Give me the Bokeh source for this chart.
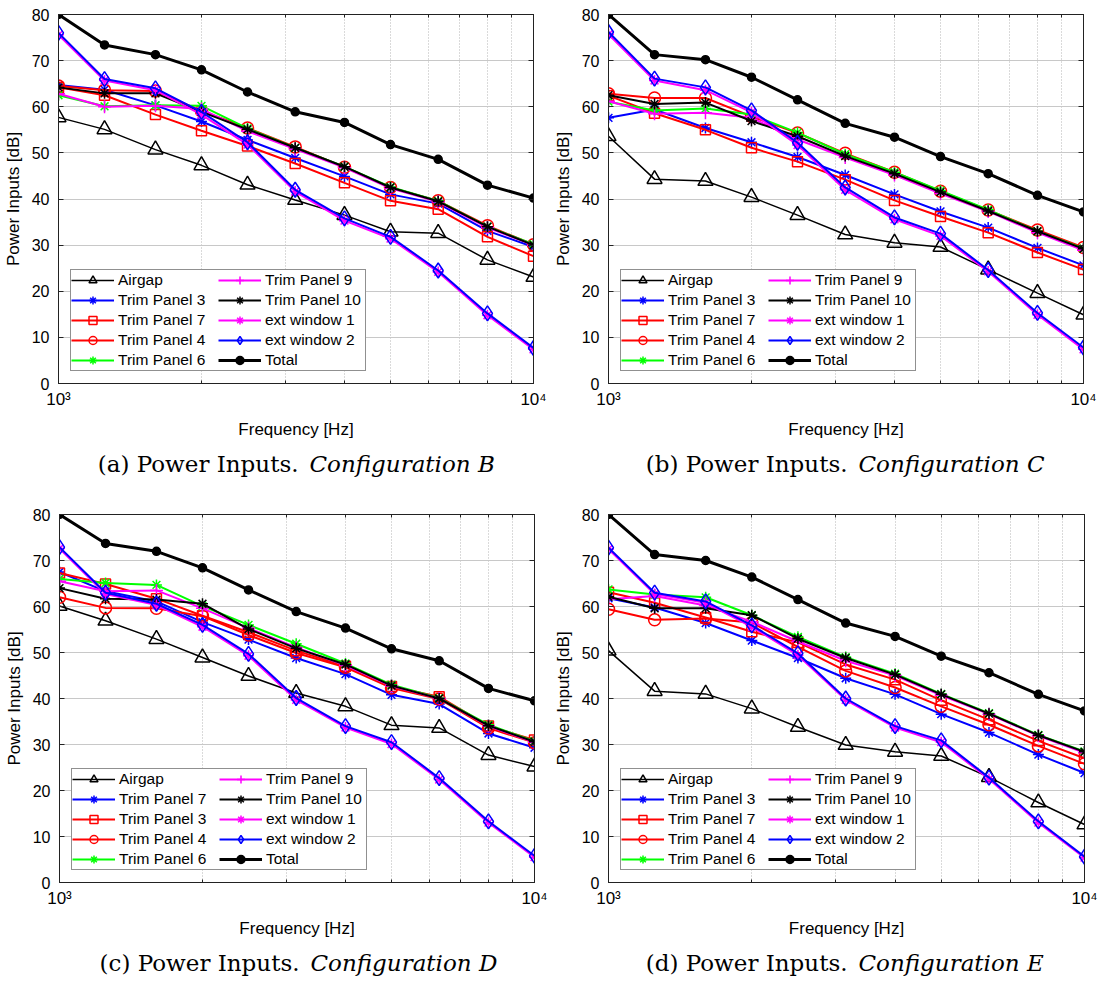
from bokeh.plotting import figure
from bokeh.layouts import column, row
from bokeh.models import FixedTicker, LinearAxis, LogAxis, Range1d
from bokeh.core.properties import value
from bokeh.embed import file_html
from bokeh.resources import INLINE

# one-third octave band centre frequencies [Hz]
freq = [1000, 1250, 1600, 2000, 2500, 3150, 4000, 5000, 6300, 8000, 10000]

# legend labels (configuration D lists panels 7 and 3 the other way round)
labels_std = ["Airgap", "Trim Panel 3", "Trim Panel 7", "Trim Panel 4", "Trim Panel 6",
              "Trim Panel 9", "Trim Panel 10", "ext window 1", "ext window 2", "Total"]
labels_d = ["Airgap", "Trim Panel 7", "Trim Panel 3", "Trim Panel 4", "Trim Panel 6",
            "Trim Panel 9", "Trim Panel 10", "ext window 1", "ext window 2", "Total"]

# sub-figure captions
cap_tags = ["(a) Power Inputs.", "(b) Power Inputs.", "(c) Power Inputs.", "(d) Power Inputs."]
cap_configs = ["Configuration B", "Configuration C", "Configuration D", "Configuration E"]

# ---- Configuration B [dB] ----
airgap_b = [57.7, 55.1, 50.7, 47.3, 43.1, 39.8, 36.5, 32.9, 32.6, 26.8, 23.1]
tp3_b = [64.7, 63.7, 60.3, 56.8, 52.8, 48.9, 44.9, 41.0, 39.0, 33.1, 29.6]
tp7_b = [64.2, 62.5, 58.3, 54.8, 51.5, 47.7, 43.5, 39.6, 37.8, 31.8, 27.6]
tp4_b = [64.5, 63.6, 63.4, 59.1, 55.4, 51.3, 46.9, 42.5, 39.6, 34.2, 30.1]
tp6_b = [62.5, 60.1, 60.3, 60.2, 55.3, 51.1, 47.0, 42.6, 39.6, 34.0, 30.2]
tp9_b = [62.8, 60.0, 60.2, 59.5, 54.7, 50.8, 46.8, 42.3, 39.4, 33.8, 30.0]
tp10_b = [64.2, 62.9, 62.9, 58.9, 55.1, 51.1, 47.0, 42.5, 39.5, 34.0, 30.0]
ext1_b = [75.6, 65.7, 63.6, 58.3, 51.8, 41.6, 35.3, 31.4, 24.2, 14.8, 7.4]
ext2_b = [76.0, 66.0, 64.0, 58.9, 52.3, 42.0, 35.8, 31.8, 24.5, 15.2, 7.7]
total_b = [80.0, 73.4, 71.3, 68.0, 63.2, 58.9, 56.6, 51.8, 48.6, 43.0, 40.2]

# ---- Configuration C [dB] ----
airgap_c = [53.6, 44.3, 43.9, 40.4, 36.5, 32.3, 30.5, 29.6, 24.7, 19.6, 14.9]
tp3_c = [57.6, 59.4, 55.4, 52.3, 49.1, 45.2, 41.0, 37.3, 33.8, 29.4, 25.6]
tp7_c = [62.4, 58.6, 55.0, 51.1, 48.1, 44.2, 39.7, 36.2, 32.7, 28.4, 24.7]
tp4_c = [62.8, 61.9, 61.9, 57.9, 54.3, 49.9, 45.8, 41.7, 37.6, 33.3, 29.5]
tp6_c = [61.1, 59.2, 59.6, 58.3, 54.4, 49.7, 45.8, 41.8, 37.7, 33.0, 29.3]
tp9_c = [61.2, 58.5, 58.7, 57.6, 52.9, 49.0, 45.2, 41.2, 37.3, 32.7, 28.9]
tp10_c = [62.5, 60.6, 60.9, 56.9, 53.6, 49.3, 45.5, 41.5, 37.4, 33.0, 29.2]
ext1_c = [75.7, 65.7, 63.6, 58.8, 51.7, 42.0, 35.6, 32.0, 24.3, 14.9, 7.4]
ext2_c = [76.2, 66.1, 64.2, 59.2, 52.2, 42.5, 36.0, 32.5, 24.6, 15.3, 7.8]
total_c = [80.0, 71.3, 70.2, 66.4, 61.5, 56.4, 53.4, 49.2, 45.5, 40.8, 37.2]

# ---- Configuration D [dB] ----
airgap_d = [60.1, 56.9, 52.9, 48.9, 44.9, 41.2, 38.3, 34.2, 33.6, 27.7, 25.2]
tp7_d = [67.5, 63.3, 61.1, 56.6, 52.8, 48.8, 45.3, 40.8, 38.8, 32.4, 29.3]
tp3_d = [67.3, 64.9, 61.7, 58.0, 54.4, 50.4, 47.0, 42.6, 40.4, 34.0, 31.0]
tp4_d = [62.0, 59.7, 59.6, 57.9, 53.8, 49.9, 46.8, 42.3, 39.9, 33.6, 30.4]
tp6_d = [66.0, 65.1, 64.7, 60.1, 56.0, 51.9, 47.6, 43.0, 40.1, 34.3, 30.7]
tp9_d = [65.5, 63.3, 63.5, 59.6, 55.3, 51.1, 47.2, 42.7, 40.0, 34.0, 30.5]
tp10_d = [64.0, 61.7, 61.5, 60.6, 55.1, 50.9, 47.4, 42.8, 40.0, 34.1, 30.6]
ext1_d = [72.6, 62.7, 60.3, 55.6, 49.3, 39.7, 33.7, 30.1, 22.4, 13.0, 5.5]
ext2_d = [72.9, 63.0, 60.6, 56.0, 49.7, 40.1, 34.0, 30.5, 22.7, 13.3, 5.8]
total_d = [80.0, 73.7, 72.0, 68.4, 63.6, 58.9, 55.3, 50.8, 48.2, 42.2, 39.5]

# ---- Configuration E [dB] ----
airgap_e = [50.4, 41.6, 41.0, 37.8, 33.8, 29.9, 28.4, 27.5, 22.9, 17.4, 12.6]
tp3_e = [61.8, 59.8, 56.4, 52.6, 48.8, 44.4, 40.9, 36.6, 32.6, 27.8, 23.8]
tp7_e = [63.1, 60.8, 57.6, 54.5, 52.2, 47.4, 44.1, 39.6, 35.4, 30.8, 27.0]
tp4_e = [59.4, 57.1, 57.4, 56.5, 51.2, 46.0, 42.4, 38.3, 34.3, 29.7, 25.8]
tp6_e = [63.7, 62.6, 62.0, 58.1, 53.4, 49.0, 45.4, 41.0, 36.8, 32.1, 28.5]
tp9_e = [61.6, 62.3, 60.2, 56.7, 52.4, 48.2, 45.0, 40.7, 36.6, 31.9, 28.2]
tp10_e = [62.1, 59.6, 59.6, 58.1, 53.0, 48.8, 45.2, 40.9, 36.7, 32.0, 28.4]
ext1_e = [72.5, 62.7, 60.8, 55.6, 49.4, 39.7, 33.7, 30.5, 22.5, 13.0, 5.4]
ext2_e = [72.8, 63.0, 61.1, 55.9, 49.8, 40.0, 34.0, 30.9, 22.8, 13.3, 5.6]
total_e = [80.0, 71.3, 70.0, 66.4, 61.5, 56.4, 53.5, 49.2, 45.6, 40.9, 37.3]

y_ticks = [0, 10, 20, 30, 40, 50, 60, 70, 80]
x_minor = [2000, 3000, 4000, 5000, 6000, 7000, 8000, 9000]

# line colour, width, marker, marker size, marker fill for each series slot
STYLES = [
    ("black", 1.5, "triangle", 15, None),
    ("#0000ff", 2, "asterisk", 11, None),
    ("#ff0000", 2, "square", 10, None),
    ("#ff0000", 2, "circle", 12, None),
    ("#00ff00", 2, "asterisk", 11, None),
    ("#ff00ff", 2, "cross", 13, None),
    ("black", 2, "asterisk", 11, None),
    ("#ff00ff", 2, "asterisk", 11, None),
    ("#0000ff", 2, "diamond", 15, None),
    ("black", 3, "circle", 8, "black"),
]

FONT = "Liberation Sans"
SERIF = "DejaVu Serif"
EDGE = "#222222"


def panel(series, labels, borders):
    left, right, top, bottom, fw, fh = borders
    p = figure(x_axis_type="log", x_range=Range1d(1000, 10000), y_range=Range1d(0, 80),
               frame_width=fw, frame_height=fh,
               min_border_left=left, min_border_right=right,
               min_border_top=top, min_border_bottom=bottom,
               output_backend="svg", toolbar_location=None,
               background_fill_color="white", border_fill_color="white")
    p.outline_line_color = EDGE
    p.outline_line_width = 1

    # axes
    xa = p.xaxis[0]
    xa.ticker = FixedTicker(ticks=[1000, 10000], minor_ticks=x_minor)
    xa.major_label_overrides = {1000: "10³", 10000: "10⁴"}
    xa.axis_label = "Frequency [Hz]"
    ya = p.yaxis[0]
    ya.ticker = FixedTicker(ticks=y_ticks)
    ya.axis_label = "Power Inputs [dB]"
    for ax in (xa, ya):
        ax.major_label_text_font = FONT
        ax.major_label_text_font_size = "16px"
        ax.major_label_text_color = "black"
        ax.axis_label_text_font = FONT
        ax.axis_label_text_font_size = "17px"
        ax.axis_label_text_font_style = "normal"
        ax.axis_label_text_color = "black"
        ax.axis_line_color = EDGE
        ax.major_tick_in = 5
        ax.major_tick_out = 0
        ax.minor_tick_in = 3
        ax.minor_tick_out = 0
        ax.major_tick_line_color = EDGE
        ax.minor_tick_line_color = EDGE
    xa.major_label_text_font_size = "17px"
    xa.major_label_standoff = 6
    xa.axis_label_standoff = 8
    ya.major_label_standoff = 9
    ya.axis_label_standoff = 6

    # inward ticks on the opposite sides, without labels
    ra = LinearAxis(ticker=FixedTicker(ticks=y_ticks), major_label_text_alpha=0,
                    major_label_text_font_size="6px",
                    major_tick_in=5, major_tick_out=0, major_label_standoff=0,
                    axis_line_color=EDGE, major_tick_line_color=EDGE)
    p.add_layout(ra, "right")
    ta = LogAxis(ticker=FixedTicker(ticks=[1000, 10000], minor_ticks=x_minor),
                 major_label_text_alpha=0, major_label_text_font_size="6px",
                 major_label_standoff=0,
                 major_tick_in=5, major_tick_out=0, minor_tick_in=3, minor_tick_out=0,
                 axis_line_color=EDGE, major_tick_line_color=EDGE,
                 minor_tick_line_color=EDGE)
    p.add_layout(ta, "above")

    # grids: solid horizontal lines, dotted decade subdivisions
    p.ygrid.ticker = FixedTicker(ticks=y_ticks)
    p.ygrid.grid_line_color = "#c8c8c8"
    p.ygrid.grid_line_width = 1
    p.xgrid.ticker = FixedTicker(ticks=x_minor)
    p.xgrid.grid_line_color = "#b4b4b4"
    p.xgrid.grid_line_dash = "1 2"
    p.xgrid.grid_line_width = 1

    for vals, lab, (col, lw, mk, ms, mfill) in zip(series, labels, STYLES):
        p.line(freq, vals, line_color=col, line_width=lw, legend_label=lab)
        p.scatter(freq, vals, marker=mk, size=ms, line_color=col, line_width=1.5,
                  fill_color=mfill, legend_label=lab)

    lg = p.legend[0]
    lg.location = "bottom_left"
    lg.orientation = "vertical"
    lg.nrows = 5
    lg.margin = 12
    lg.padding = 0
    lg.spacing = 0
    lg.glyph_width = 43
    lg.glyph_height = 20
    lg.label_height = 20
    lg.label_width = 100
    lg.label_standoff = 4
    lg.label_text_font = FONT
    lg.label_text_font_size = "15.5px"
    lg.label_text_color = "black"
    lg.border_line_color = EDGE
    lg.border_line_width = 1
    lg.background_fill_color = "white"
    lg.background_fill_alpha = 1.0
    return p


def caption(tag, config, width, height, split, cy):
    """A strip holding the sub-figure caption: upright tag, italic configuration."""
    c = figure(width=width, height=height, x_range=Range1d(0, width),
               y_range=Range1d(0, height), min_border=0,
               x_axis_location=None, y_axis_location=None,
               output_backend="svg", toolbar_location=None,
               background_fill_color="white", border_fill_color="white")
    c.outline_line_color = None
    c.grid.visible = False
    c.text(x=[split - 5.5], y=[height - cy], text=[tag], text_font=value(SERIF),
           text_font_size="23px", text_align="right", text_baseline="middle",
           text_color="black")
    c.text(x=[split + 5.5], y=[height - cy], text=[config], text_font=value(SERIF),
           text_font_size="23px", text_font_style="italic", text_align="left",
           text_baseline="middle", text_color="black")
    return c


pa = panel([airgap_b, tp3_b, tp7_b, tp4_b, tp6_b, tp9_b, tp10_b, ext1_b, ext2_b, total_b],
           labels_std, (58, 17, 14, 57, 475, 369))
pb = panel([airgap_c, tp3_c, tp7_c, tp4_c, tp6_c, tp9_c, tp10_c, ext1_c, ext2_c, total_c],
           labels_std, (57, 16, 14, 57, 475, 369))
pc = panel([airgap_d, tp7_d, tp3_d, tp4_d, tp6_d, tp9_d, tp10_d, ext1_d, ext2_d, total_d],
           labels_d, (59, 16, 15, 57, 475, 368))
pd = panel([airgap_e, tp3_e, tp7_e, tp4_e, tp6_e, tp9_e, tp10_e, ext1_e, ext2_e, total_e],
           labels_std, (57, 15, 15, 57, 476, 368))

ca = caption(cap_tags[0], cap_configs[0], 550, 58, 303.5, 22)
cb = caption(cap_tags[1], cap_configs[1], 548, 58, 302.5, 22)
cc = caption(cap_tags[2], cap_configs[2], 550, 43, 304.5, 22)
cd = caption(cap_tags[3], cap_configs[3], 548, 43, 302.5, 22)

layout = column(row(pa, pb), row(ca, cb), row(pc, pd), row(cc, cd))
open("out.html", "w").write(file_html(layout, INLINE))
